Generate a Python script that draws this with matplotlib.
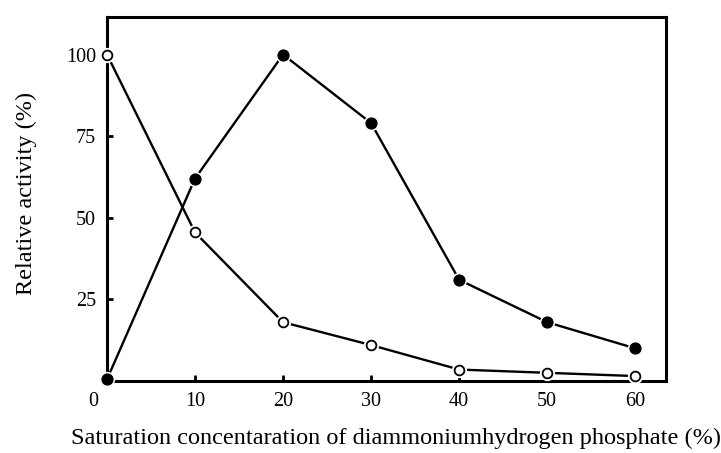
import matplotlib
matplotlib.use("Agg")
import matplotlib.pyplot as plt
import matplotlib.transforms as mtrans

plt.rcParams['font.family'] = ['Liberation Serif', 'DejaVu Serif']

x = [0, 10, 20, 30, 40, 50, 60]
filled = [0.5, 62, 100, 79, 31, 18, 10]
opened = [100, 45.5, 18, 11, 3.5, 2.5, 1.5]
xticks = [0, 10, 20, 30, 40, 50, 60]
yticks = [25, 50, 75, 100]

W, H = 721, 453
fig = plt.figure(figsize=(W / 100, H / 100), dpi=100)
ax = fig.add_axes([0.1484, 0.159, 0.7753, 0.8035])

# lines
ax.plot(x, filled, color='black', lw=1.7, clip_on=False, zorder=2)
ax.plot(x, opened, color='black', lw=1.7, clip_on=False, zorder=2)
# white halos that leave a small gap between lines and markers
ax.plot(x, filled, ls='none', marker='o', ms=11, mfc='white', mec='none',
        clip_on=False, zorder=3)
ax.plot(x, opened, ls='none', marker='o', ms=11, mfc='white', mec='none',
        clip_on=False, zorder=3)
# markers
ax.plot(x, filled, ls='none', marker='o', ms=8, mfc='black', mec='black',
        mew=0.8, clip_on=False, zorder=4)
ax.plot(x, opened, ls='none', marker='o', ms=7, mfc='white', mec='black',
        mew=1.3, clip_on=False, zorder=4)

ax.set_xlim(0, 63.5)
ax.set_ylim(0, 111.5)
ax.set_xticks(xticks)
ax.set_yticks(yticks)
ax.set_xticklabels([str(v) for v in xticks])
ax.set_yticklabels([str(v) for v in yticks])
ax.tick_params(direction='in', length=4, width=2, labelsize=14.5, pad=8)
for s in ax.spines.values():
    s.set_linewidth(2.2)
    s.set_zorder(1)

# shift the "0" label slightly left, as in the reference
lbl0 = ax.get_xticklabels()[0]
lbl0.set_transform(lbl0.get_transform() +
                   mtrans.ScaledTranslation(-14 / 100, 0, fig.dpi_scale_trans))

fig.text(396 / W, 1 - 438 / H,
         'Saturation concentaration of diammoniumhydrogen phosphate (%)',
         fontsize=17.5, ha='center', va='center')
fig.text(26 / W, 1 - 193 / H, 'Relative activity (%)', fontsize=17.5,
         ha='center', va='center', rotation=90)

fig.savefig('out.png', dpi=100)
